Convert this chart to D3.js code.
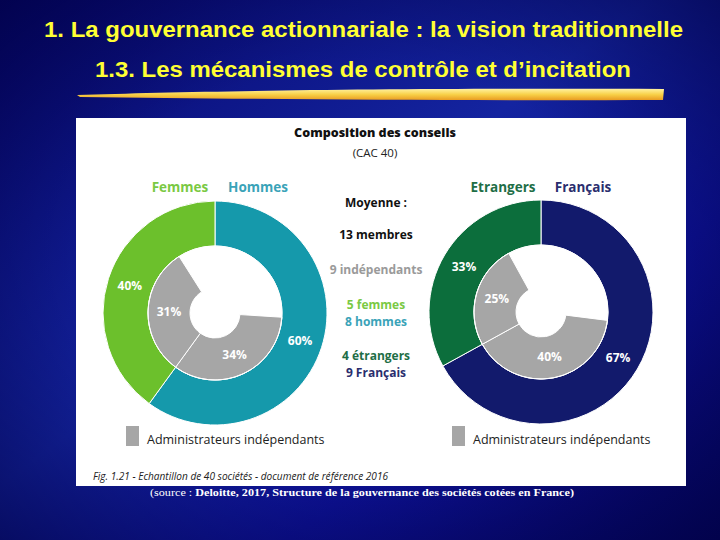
<!DOCTYPE html>
<html><head><meta charset="utf-8">
<script src="https://cdn.jsdelivr.net/npm/d3@7"></script>
<style>html,body{margin:0;padding:0;background:#0a0a80;}svg{display:block;}</style>
</head><body>
<script>
// ---- data ----
const slideTitle = "1. La gouvernance actionnariale : la vision traditionnelle";
const slideSubtitle = "1.3. Les mécanismes de contrôle et d’incitation";
const chartTitle = "Composition des conseils";
const chartSub = "(CAC 40)";
const genderCategories = ["Hommes", "Femmes"];
const genderShares = [60, 40];
const genderIndep = [34, 31];
const nationCategories = ["Français", "Etrangers"];
const nationShares = [67, 33];
const nationIndep = [40, 25];
const middleLines = ["Moyenne :", "13 membres", "9 indépendants", "5 femmes", "8 hommes", "4 étrangers", "9 Français"];
const legendLabel = "Administrateurs indépendants";
const caption = "Fig. 1.21 - Echantillon de 40 sociétés - document de référence 2016";
const sourcePrefix = "(source : ";
const sourceText = "Deloitte, 2017, Structure de la gouvernance des sociétés cotées en France)";

const W = 720, H = 540;
const svg = d3.select("body").append("svg").attr("width", W).attr("height", H);
const defs = svg.append("defs");

// background
const bg = defs.append("linearGradient").attr("id","bg").attr("x1","0").attr("y1","0").attr("x2","1").attr("y2","1");
bg.append("stop").attr("offset","0").attr("stop-color","#06066a");
bg.append("stop").attr("offset","0.45").attr("stop-color","#1424a0");
bg.append("stop").attr("offset","0.7").attr("stop-color","#0c1090");
bg.append("stop").attr("offset","1").attr("stop-color","#050560");
svg.append("rect").attr("width",W).attr("height",H).attr("fill","url(#bg)");
const rg = defs.append("radialGradient").attr("id","rg").attr("cx","0.5").attr("cy","0.5").attr("r","0.75");
rg.append("stop").attr("offset","0.5").attr("stop-color","#000040").attr("stop-opacity",0);
rg.append("stop").attr("offset","1").attr("stop-color","#000040").attr("stop-opacity",0.7);
svg.append("rect").attr("width",W).attr("height",H).attr("fill","url(#rg)");

// titles
svg.append("text").attr("x",44).attr("y",37)
  .attr("font-family","Liberation Sans, Arial, sans-serif").attr("font-weight","bold").attr("font-size",22)
  .attr("textLength",639).attr("lengthAdjust","spacingAndGlyphs")
  .attr("fill","#ffff33").text(slideTitle);
svg.append("text").attr("x",95).attr("y",77)
  .attr("font-family","Liberation Sans, Arial, sans-serif").attr("font-weight","bold").attr("font-size",22)
  .attr("textLength",536).attr("lengthAdjust","spacingAndGlyphs")
  .attr("fill","#ffff33").text(slideSubtitle);

// brush stroke
const bs = defs.append("linearGradient").attr("id","brush").attr("x1","0").attr("y1","0").attr("x2","0").attr("y2","1");
bs.append("stop").attr("offset","0").attr("stop-color","#fff2a0");
bs.append("stop").attr("offset","0.5").attr("stop-color","#f8d048");
bs.append("stop").attr("offset","1").attr("stop-color","#e89a20");
svg.append("path").attr("d","M77,95 C200,91 400,88 664,89 L663,100 C450,101 250,99 80,97 Z").attr("fill","url(#brush)");

// white panel
svg.append("rect").attr("x",76).attr("y",118).attr("width",610).attr("height",368).attr("fill","#ffffff");

const osans = "'Open Sans', 'Noto Sans', sans-serif";
svg.append("text").attr("x",375).attr("y",137).attr("text-anchor","middle").attr("font-family",osans)
  .attr("font-weight",800).attr("font-size",12.5).attr("fill","#111").text(chartTitle);
svg.append("text").attr("x",375).attr("y",157).attr("text-anchor","middle").attr("font-family",osans)
  .attr("font-size",11.5).attr("fill","#222").text(chartSub);

const ang = d3.scaleLinear().domain([0,100]).range([0, 2*Math.PI]);

function donut(cx, cy, cats, shares, indep, colors, headerColors, headerX) {
  const g = svg.append("g").attr("transform", `translate(${cx},${cy})`);
  const pie = d3.pie().sort(null).value(d => d).startAngle(0).endAngle(2*Math.PI);
  const outer = d3.arc().innerRadius(67).outerRadius(112);
  const arcs = pie(shares);
  g.selectAll("path.o").data(arcs).join("path").attr("class","o").attr("d", outer)
    .attr("fill", (d,i) => colors[i]).attr("stroke","#fff").attr("stroke-width",1);
  const b = ang(shares[0]);
  const inner = d3.arc().innerRadius(25).outerRadius(67);
  const innerArcs = [
    {startAngle: b - ang(indep[0]), endAngle: b, v: indep[0]},
    {startAngle: b, endAngle: b + ang(indep[1]), v: indep[1]}
  ];
  g.selectAll("path.i").data(innerArcs).join("path").attr("class","i").attr("d", inner)
    .attr("fill","#a6a6a6").attr("stroke","#fff").attr("stroke-width",1);
  g.append("circle").attr("r",67).attr("fill","none").attr("stroke","#fff").attr("stroke-width",1);
  g.selectAll("text.o").data(arcs).join("text").attr("class","o")
    .attr("transform", d => `translate(${outer.centroid(d)})`).attr("text-anchor","middle").attr("dy","0.35em")
    .attr("font-family",osans).attr("font-weight","bold").attr("font-size",12).attr("fill","#fff")
    .text(d => d.data + "%");
  g.selectAll("text.i").data(innerArcs).join("text").attr("class","i")
    .attr("transform", d => `translate(${inner.centroid(d)})`).attr("text-anchor","middle").attr("dy","0.35em")
    .attr("font-family",osans).attr("font-weight","bold").attr("font-size",12).attr("fill","#fff")
    .text(d => d.v + "%");
  // headers (second category on left)
  svg.selectAll(null).data(cats).join("text").attr("x",(d,i)=>headerX[i]).attr("y",192)
    .attr("text-anchor","middle").attr("font-family",osans).attr("font-weight","bold").attr("font-size",13.5)
    .attr("fill",(d,i)=>headerColors[i]).text(d=>d);
  // legend
  svg.append("rect").attr("x",cx-89).attr("y",426).attr("width",13).attr("height",20).attr("fill","#a6a6a6");
  svg.append("text").attr("x",cx-68).attr("y",444).attr("font-family",osans).attr("font-size",12.5)
    .attr("fill","#222").text(legendLabel);
}

donut(215, 313, genderCategories, genderShares, genderIndep, ["#1599ab","#6cc02c"], ["#3aa3b8","#7ac943"], [258,180]);
donut(541, 312, nationCategories, nationShares, nationIndep, ["#121a6c","#0c6e3c"], ["#2a2e6e","#1e6e46"], [583,503]);

// middle text
const midY = [207, 239, 274, 309, 326, 360, 377];
const midColors = ["#111","#111","#9a9a9a","#7ac943","#3aa3b8","#1e6e46","#2a2e6e"];
svg.selectAll(null).data(middleLines).join("text").attr("x",376).attr("y",(d,i)=>midY[i])
  .attr("text-anchor","middle").attr("font-family",osans).attr("font-weight","bold").attr("font-size",12)
  .attr("fill",(d,i)=>midColors[i]).text(d=>d);

// caption
svg.append("text").attr("x",93).attr("y",480).attr("font-family",osans).attr("font-style","italic")
  .attr("font-size",10).attr("fill","#222").attr("textLength",295).attr("lengthAdjust","spacingAndGlyphs").text(caption);

// source
const src = svg.append("text").attr("x",150).attr("y",496).attr("font-family","'Liberation Serif', 'Times New Roman', serif")
  .attr("font-size",10.5).attr("fill","#fff").attr("textLength",424).attr("lengthAdjust","spacingAndGlyphs");
src.append("tspan").text(sourcePrefix);
src.append("tspan").attr("font-weight","bold").text(sourceText);
</script>
</body></html>
